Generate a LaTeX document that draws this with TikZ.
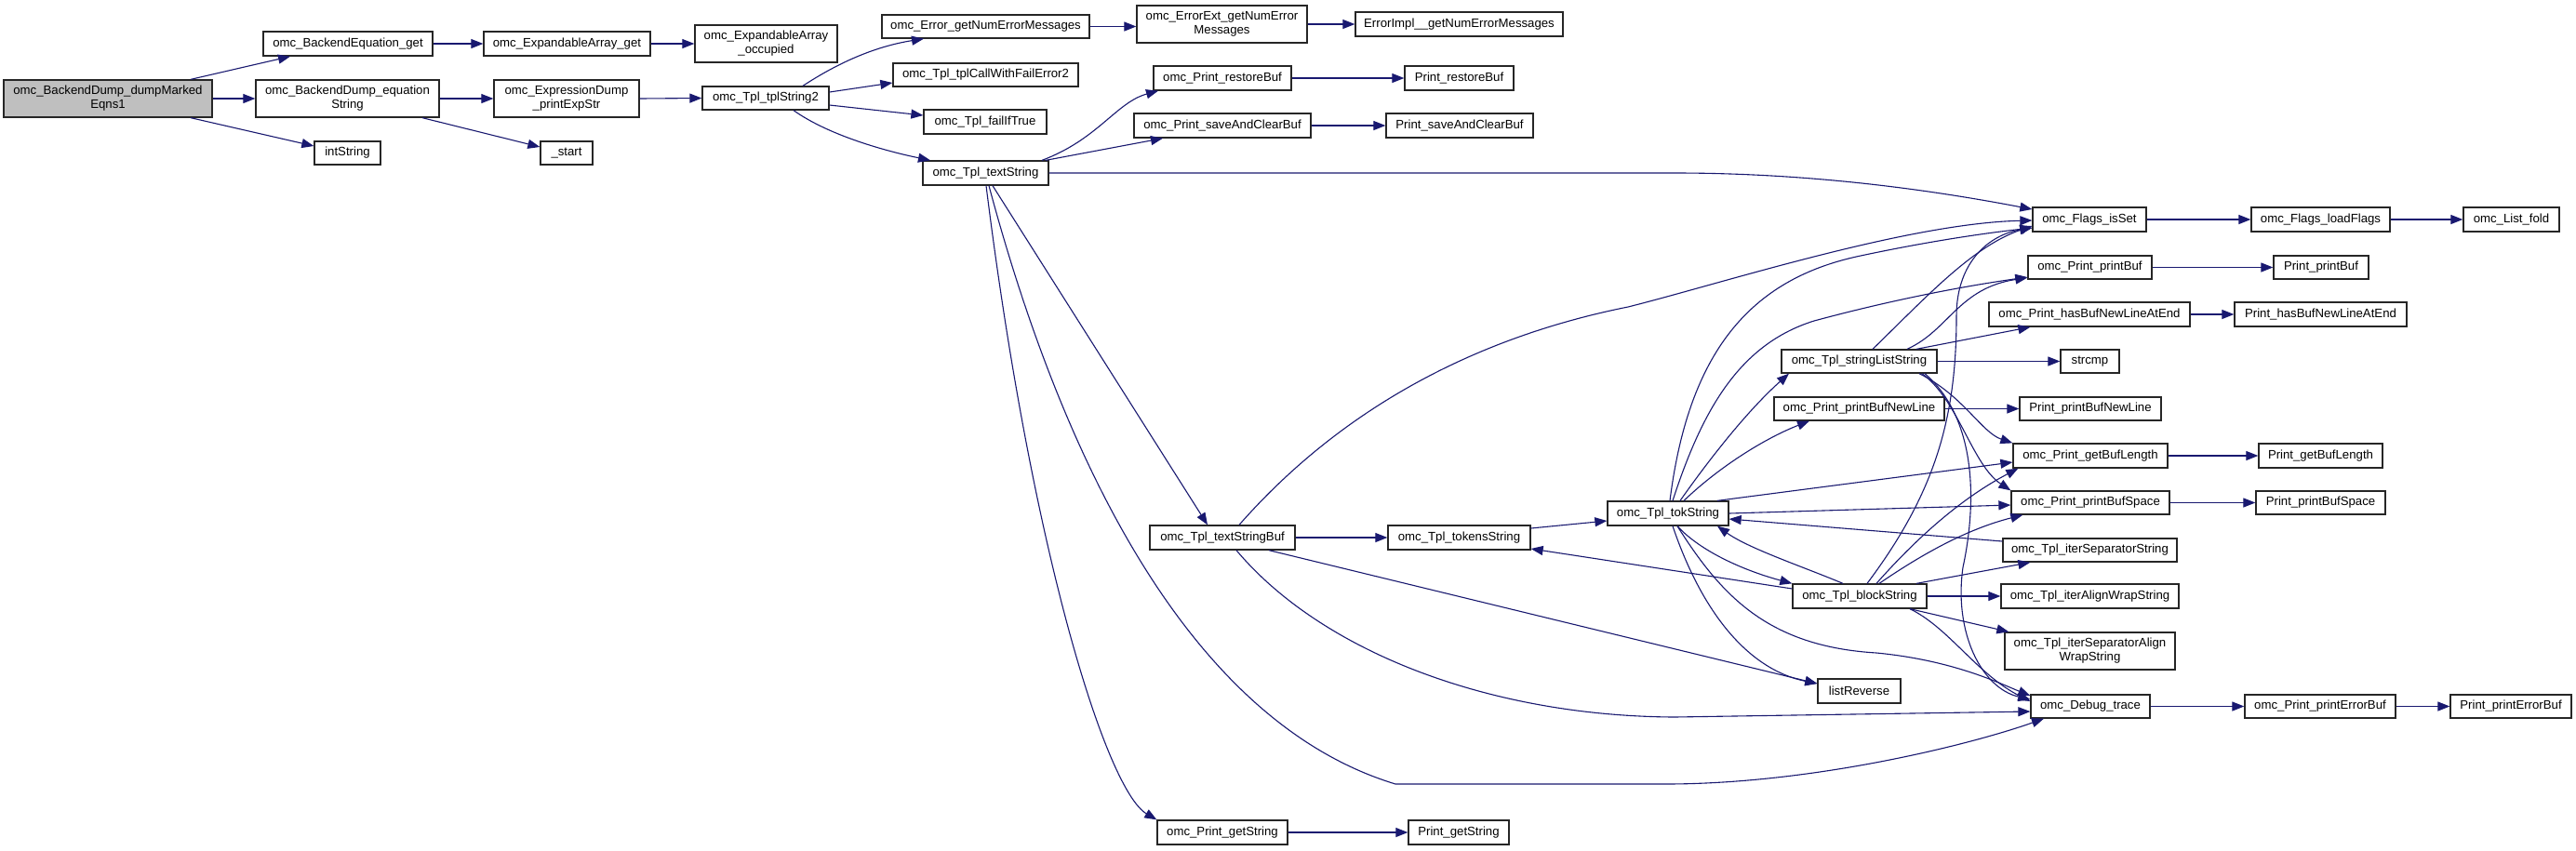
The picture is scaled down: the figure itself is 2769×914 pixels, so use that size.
\documentclass[tikz,border=0pt]{standalone}
\usepackage{fontspec}
\setmainfont{Liberation Sans}
\usetikzlibrary{arrows.meta}
\definecolor{edgeblue}{RGB}{25,25,112}
\definecolor{rootgrey}{RGB}{191,191,191}
\tikzset{
  fnbox/.style={draw=black!85, line width=1.3pt, fill=white, inner sep=0pt, align=center,
    font=\fontsize{13.2}{15}\selectfont},
  rootbox/.style={fnbox, fill=rootgrey},
  call/.style={draw=edgeblue, line width=1.1pt, -{Triangle[length=13pt,width=10pt]}, fill=none}
}
\newcommand\gbox[7][fnbox]{\node[#1, minimum width={#5-#3}, minimum height={#6-#4}] (#2) at ({(#3+#5)/2},{(#4+#6)/2}) {#7};}
\begin{document}
\begin{tikzpicture}[x=1pt,y=-1pt]
\fill[white] (0,0) rectangle (2769,914);
\useasboundingbox (0,0) rectangle (2769,914);
% nodes
\gbox[rootbox]{root}{4}{86}{228}{126}{omc\_BackendDump\_dumpMarked\\Eqns1}
\gbox{beqget}{283}{34}{465}{60}{omc\_BackendEquation\_get}
\gbox{eaget}{520}{34}{699}{60}{omc\_ExpandableArray\_get}
\gbox{eqstr}{275}{86}{472}{126}{omc\_BackendDump\_equation\\String}
\gbox{intstr}{338}{152}{409}{177}{intString}
\gbox{eaocc}{747}{27}{900}{67}{omc\_ExpandableArray\\\_occupied}
\gbox{printexp}{531}{86}{687}{126}{omc\_ExpressionDump\\\_printExpStr}
\gbox{start}{581}{152}{637}{177}{\_start}
\gbox{tpl2}{755}{93}{891}{118}{omc\_Tpl\_tplString2}
\gbox{errget}{948}{16}{1171}{41}{omc\_Error\_getNumErrorMessages}
\gbox{failerr}{960}{68}{1159}{93}{omc\_Tpl\_tplCallWithFailError2}
\gbox{failif}{993}{118}{1125}{144}{omc\_Tpl\_failIfTrue}
\gbox{textstr}{992}{173}{1127}{199}{omc\_Tpl\_textString}
\gbox{errext}{1222}{6}{1405}{46}{omc\_ErrorExt\_getNumError\\Messages}
\gbox{errimpl}{1457}{13}{1680}{39}{ErrorImpl\_\_getNumErrorMessages}
\gbox{prestore}{1240}{71}{1388}{97}{omc\_Print\_restoreBuf}
\gbox{Prestore}{1510}{71}{1627}{97}{Print\_restoreBuf}
\gbox{psave}{1219}{122}{1409}{148}{omc\_Print\_saveAndClearBuf}
\gbox{Psave}{1490}{122}{1648}{148}{Print\_saveAndClearBuf}
\gbox{isset}{2185}{223}{2307}{249}{omc\_Flags\_isSet}
\gbox{loadflags}{2420}{223}{2569}{249}{omc\_Flags\_loadFlags}
\gbox{listfold}{2648}{223}{2751}{249}{omc\_List\_fold}
\gbox{pbuf}{2180}{275}{2313}{300}{omc\_Print\_printBuf}
\gbox{Pbuf}{2444}{275}{2546}{300}{Print\_printBuf}
\gbox{hasbuf}{2138}{325}{2354}{351}{omc\_Print\_hasBufNewLineAtEnd}
\gbox{Hasbuf}{2402}{325}{2587}{351}{Print\_hasBufNewLineAtEnd}
\gbox{sls}{1915}{376}{2082}{401}{omc\_Tpl\_stringListString}
\gbox{strcmp}{2215}{376}{2278}{401}{strcmp}
\gbox{pbnl}{1907}{427}{2090}{452}{omc\_Print\_printBufNewLine}
\gbox{Pbnl}{2171}{427}{2323}{452}{Print\_printBufNewLine}
\gbox{gbl}{2164}{477}{2330}{503}{omc\_Print\_getBufLength}
\gbox{Gbl}{2428}{477}{2561}{503}{Print\_getBufLength}
\gbox{pbs}{2162}{528}{2332}{553}{omc\_Print\_printBufSpace}
\gbox{Pbs}{2425}{528}{2564}{553}{Print\_printBufSpace}
\gbox{iss}{2153}{579}{2340}{604}{omc\_Tpl\_iterSeparatorString}
\gbox{block}{1927}{628}{2071}{654}{omc\_Tpl\_blockString}
\gbox{iaws}{2151}{628}{2342}{654}{omc\_Tpl\_iterAlignWrapString}
\gbox{isaws}{2155}{680}{2338}{720}{omc\_Tpl\_iterSeparatorAlign\\WrapString}
\gbox{listrev}{1954}{730}{2043}{756}{listReverse}
\gbox{dtrace}{2183}{747}{2311}{772}{omc\_Debug\_trace}
\gbox{perr}{2413}{747}{2575}{772}{omc\_Print\_printErrorBuf}
\gbox{Perr}{2634}{747}{2764}{772}{Print\_printErrorBuf}
\gbox{tsbuf}{1236}{565}{1392}{591}{omc\_Tpl\_textStringBuf}
\gbox{tokens}{1492}{565}{1645}{591}{omc\_Tpl\_tokensString}
\gbox{tok}{1728}{539}{1858}{565}{omc\_Tpl\_tokString}
\gbox{getstr}{1244}{882}{1384}{908}{omc\_Print\_getString}
\gbox{Getstr}{1514}{882}{1622}{908}{Print\_getString}
% edges
\draw[call] ([xshift=89pt]root.north) -- ([xshift=-62pt]beqget.south);
\draw[call] (root.east) -- (eqstr.west);
\draw[call] ([xshift=89pt]root.south) -- ([yshift=7.5pt]intstr.west);
\draw[call] (beqget.east) -- (eaget.west);
\draw[call] (eaget.east) -- (eaocc.west);
\draw[call] (eqstr.east) -- (printexp.west);
\draw[call] ([xshift=80.5pt]eqstr.south) -- ([yshift=6.5pt]start.west);
\draw[call] (printexp.east) -- (tpl2.west);
\draw[call] ([xshift=40pt]tpl2.north) .. controls (900,68) and (940,50) .. ([xshift=-66.5pt]errget.south);
\draw[call] ([yshift=6.5pt]tpl2.east) -- ([yshift=-8.5pt]failerr.west);
\draw[call] ([yshift=-7.5pt]tpl2.east) -- ([yshift=7pt]failif.west);
\draw[call] ([xshift=30pt]tpl2.south) .. controls (890,145) and (950,162) .. ([xshift=-59.5pt]textstr.north);
\draw[call] (errget.east) -- (errext.west |- errget.east);
\draw[call] (errext.east) -- (errimpl.west);
\draw[call] ([xshift=60.5pt]textstr.north) .. controls (1180,150) and (1200,110) .. ([xshift=-69pt]prestore.south);
\draw[call] ([xshift=64.5pt]textstr.north) -- ([xshift=-64pt]psave.south);
\draw[call] (prestore.east) -- (Prestore.west);
\draw[call] (psave.east) -- (Psave.west);
\draw[call] (textstr.east) -- (1800,186) .. controls (1950,186) and (2080,205) .. ([yshift=11pt]isset.west);
\draw[call] ([xshift=7.5pt]textstr.south) -- ([xshift=-16pt]tsbuf.north);
\draw[call] ([xshift=0.5pt]textstr.south) .. controls (1110,600) and (1190,850) .. (getstr.north west);
\draw[call] ([xshift=3.5pt]textstr.south) .. controls (1130,450) and (1260,770) .. (1500,843) -- (1790,843) .. controls (1950,843) and (2120,800) .. ([xshift=-50pt]dtrace.south);
\draw[call] (tsbuf.east) -- (tokens.west);
\draw[call] ([xshift=18pt]tsbuf.north) .. controls (1450,430) and (1600,360) .. (1750,330) .. controls (1850,305) and (2050,240) .. ([yshift=-1pt]isset.west);
\draw[call] ([xshift=50pt]tsbuf.south) -- ([yshift=8pt]listrev.west);
\draw[call] ([xshift=15pt]tsbuf.south) .. controls (1420,700) and (1600,770) .. (1800,771) -- ([yshift=-5.5pt]dtrace.west);
\draw[call] ([yshift=10pt]tokens.east) -- ([yshift=-8pt]tok.west);
\draw[call] ([xshift=2pt]tok.north) .. controls (1815,380) and (1880,300) .. (2000,275) .. controls (2080,258) and (2140,250) .. ([yshift=-9pt]isset.west);
\draw[call] ([xshift=5pt]tok.north) .. controls (1830,440) and (1870,370) .. (1950,345) .. controls (2050,318) and (2130,305) .. ([yshift=-10.5pt]pbuf.west);
\draw[call] ([xshift=13pt]tok.north) .. controls (1840,490) and (1880,440) .. ([xshift=-75.5pt]sls.south);
\draw[call] ([xshift=17pt]tok.north) .. controls (1850,500) and (1900,470) .. ([xshift=-53.5pt]pbnl.south);
\draw[call] ([xshift=53pt]tok.north) -- ([yshift=-7pt]gbl.west);
\draw[call] (tok.east) -- ([yshift=-2.5pt]pbs.west);
\draw[call] ([yshift=9.5pt]iss.west) -- ([yshift=-6pt]tok.east);
\draw[call] ([xshift=10pt]tok.south) .. controls (1830,595) and (1880,615) .. (block.north west);
\draw[call] ([xshift=-18pt]block.north) .. controls (1940,610) and (1880,590) .. ([xshift=53pt]tok.south);
\draw[call] ([yshift=8pt]block.west) -- ([yshift=-12pt]tokens.east);
\draw[call] ([xshift=5pt]tok.south) .. controls (1830,660) and (1880,720) .. ([yshift=8pt]listrev.west);
\draw[call] ([xshift=10pt]tok.south) .. controls (1850,640) and (1900,695) .. (2017,702) .. controls (2100,710) and (2150,735) .. ([yshift=11.5pt]dtrace.west);
\draw[call] ([xshift=14.5pt]sls.north) .. controls (2070,320) and (2120,265) .. ([yshift=-7pt]isset.west);
\draw[call] ([xshift=51.5pt]sls.north) .. controls (2095,355) and (2105,310) .. ([yshift=-11pt]pbuf.west);
\draw[call] ([xshift=61.5pt]sls.north) -- ([xshift=45pt]hasbuf.south west);
\draw[call] (sls.east) -- (strcmp.west);
\draw[call] ([xshift=64.5pt]sls.south) .. controls (2110,425) and (2130,465) .. (gbl.north west);
\draw[call] ([xshift=67.5pt]sls.south) .. controls (2105,430) and (2120,500) .. (pbs.north west);
\draw[call] ([xshift=70.5pt]sls.south) .. controls (2125,450) and (2125,540) .. (2110,610) .. controls (2100,680) and (2130,740) .. ([yshift=7.5pt]dtrace.west);
\draw[call] (pbnl.east) -- (Pbnl.west);
\draw[call] (gbl.east) -- (Gbl.west);
\draw[call] (pbs.east) -- (Pbs.west);
\draw[call] ([xshift=8pt]block.north) .. controls (2080,530) and (2103,450) .. (2103,340) .. controls (2103,280) and (2140,252) .. ([yshift=-9pt]isset.west);
\draw[call] ([xshift=18pt]block.north) .. controls (2050,590) and (2100,540) .. ([xshift=6pt]gbl.south west);
\draw[call] ([xshift=21pt]block.north) .. controls (2060,600) and (2110,570) .. ([xshift=13pt]pbs.south west);
\draw[call] ([xshift=61pt]block.north) -- ([xshift=30pt]iss.south west);
\draw[call] (block.east) -- (iaws.west);
\draw[call] ([xshift=54pt]block.south) -- ([xshift=5pt]isaws.north west);
\draw[call] ([xshift=54pt]block.south) .. controls (2095,675) and (2125,725) .. ([yshift=5.5pt]dtrace.west);
\draw[call] (dtrace.east) -- (perr.west);
\draw[call] (perr.east) -- (Perr.west);
\draw[call] (getstr.east) -- (Getstr.west);
\draw[call] (isset.east) -- (loadflags.west);
\draw[call] (loadflags.east) -- (listfold.west);
\draw[call] (pbuf.east) -- (Pbuf.west);
\draw[call] (hasbuf.east) -- (Hasbuf.west);
\end{tikzpicture}
\end{document}
